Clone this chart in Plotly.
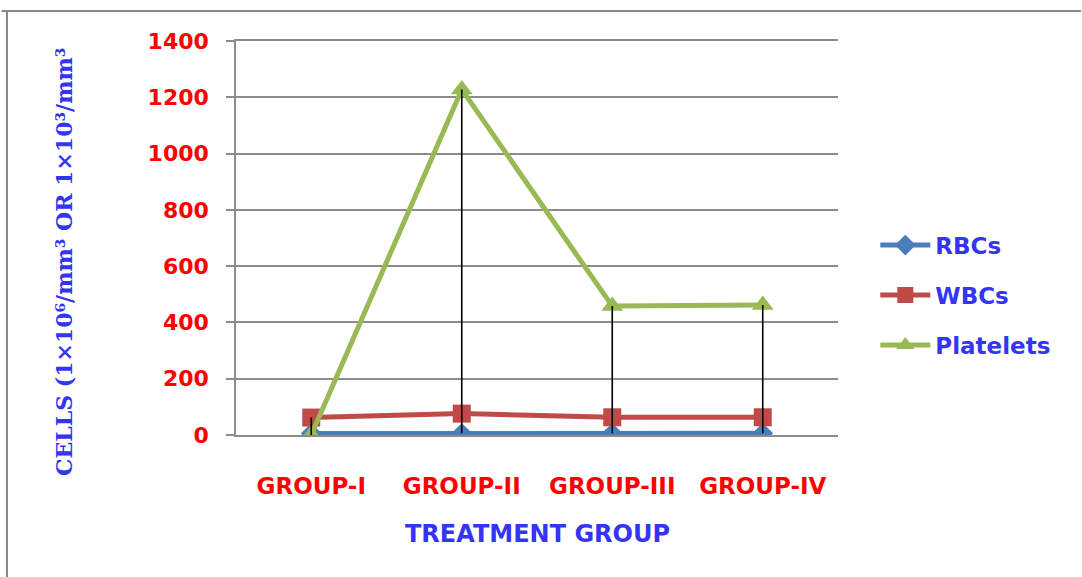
import plotly.graph_objects as go

# Haematology values per treatment group
groups = ["GROUP-I", "GROUP-II", "GROUP-III", "GROUP-IV"]
rbcs = [5.5, 5.8, 6.0, 6.0]
wbcs = [62, 76, 63, 63]
platelets = [0, 1228, 458, 462]

y_ticks = [0, 200, 400, 600, 800, 1000, 1200, 1400]

BLUE_TXT = "#3434f4"
RED_TXT = "#ff0000"
GRID = "#8c8c8c"
FRAME = "#8a8a8a"

fig = go.Figure()

series = [
    ("RBCs", rbcs, "#4a7ebb", "diamond", 16),
    ("WBCs", wbcs, "#be4b48", "square", 18),
    ("Platelets", platelets, "#98b954", "triangle-up", 19),
]
for name, vals, color, symbol, msize in series:
    fig.add_trace(go.Scatter(
        x=groups, y=vals, name=name, mode="lines+markers",
        line=dict(color=color, width=5),
        marker=dict(symbol=symbol, size=msize, color=color),
        legendgroup=name,
    ))

# High-low lines: from the largest to the smallest value in each group
hl_x, hl_y = [], []
for j, g in enumerate(groups):
    vals = [rbcs[j], wbcs[j], platelets[j]]
    hl_x += [g, g, None]
    hl_y += [max(vals), min(vals), None]
fig.add_trace(go.Scatter(
    x=hl_x, y=hl_y, mode="lines", showlegend=False, hoverinfo="skip",
    line=dict(color="black", width=1.6),
))

fig.update_layout(
    width=1082, height=577,
    margin=dict(l=236, r=244, t=41, b=142),
    paper_bgcolor="white", plot_bgcolor="white",
    showlegend=True,
    legend=dict(
        x=1.062, y=0.355, xanchor="left", yanchor="middle",
        font=dict(family="DejaVu Sans", size=23, color=BLUE_TXT, weight="bold"),
        tracegroupgap=17, itemwidth=50,
        bgcolor="rgba(0,0,0,0)",
    ),
    xaxis=dict(
        type="category", range=[-0.5, 3.5],
        showgrid=False, zeroline=False, ticks="",
        showline=True, mirror=True, linecolor=GRID, linewidth=1.5,
        tickfont=dict(family="DejaVu Sans", size=23, color=RED_TXT, weight="bold"),
        ticklabelstandoff=30,
    ),
    yaxis=dict(
        range=[0, 1400], tickvals=y_ticks,
        showgrid=True, gridcolor=GRID, gridwidth=1.5,
        showline=True, linecolor=GRID, linewidth=1.5,
        zeroline=False,
        ticks="outside", ticklen=8, tickcolor=GRID, tickwidth=1.5,
        tickfont=dict(family="DejaVu Sans", size=22, color=RED_TXT, weight="bold"),
        ticklabelstandoff=13,
    ),
    annotations=[
        dict(
            text="CELLS (1×10⁶/mm³ OR 1×10³/mm³",
            xref="paper", yref="paper", x=-0.2857, y=0.439,
            xanchor="center", yanchor="middle", textangle=-90, showarrow=False,
            font=dict(family="DejaVu Serif", size=22, color=BLUE_TXT, weight="bold"),
        ),
        dict(
            text="TREATMENT GROUP",
            xref="paper", yref="paper", x=0.5, y=-0.251,
            xanchor="center", yanchor="middle", showarrow=False,
            font=dict(family="DejaVu Sans", size=24, color=BLUE_TXT, weight="bold"),
        ),
        # top edge of the outer chart frame
        dict(
            text="", xref="paper", yref="paper", x=1.42, y=1.0761,
            showarrow=True, arrowhead=0, arrowwidth=2, arrowcolor=FRAME,
            ax=-1092, ay=0, standoff=0, startstandoff=0,
        ),
    ],
    shapes=[
        # left edge of the outer chart frame
        dict(type="line", xref="paper", yref="paper",
             x0=-0.3804, x1=-0.3804, y0=-0.6, y1=1.0761,
             line=dict(color=FRAME, width=2), layer="below"),
    ],
)

fig.write_html("out.html")
